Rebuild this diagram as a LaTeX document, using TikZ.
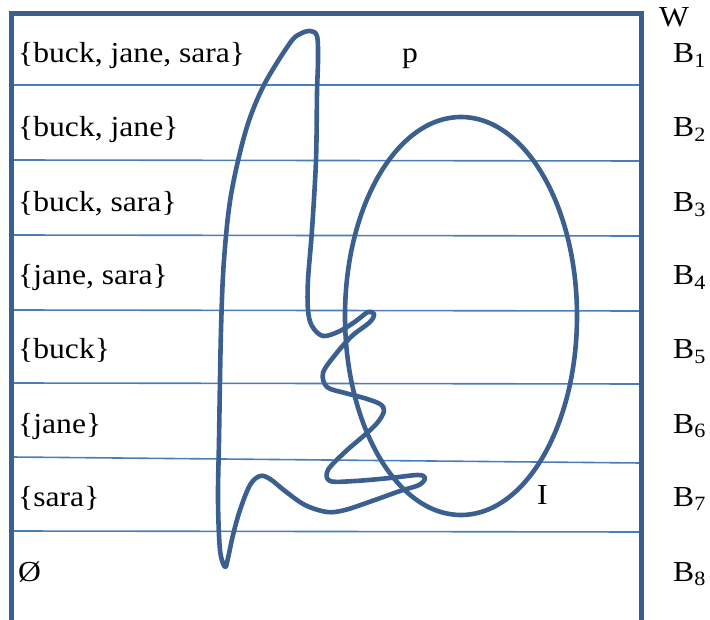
\documentclass[tikz,border=0pt]{standalone}
\usepackage{fontspec}
\setmainfont{Liberation Serif}[FakeStretch=1.09]
\usetikzlibrary{positioning}
\definecolor{frameblue}{HTML}{3B5F8F}
\definecolor{ruleblue}{HTML}{4A7EBB}
\tikzset{
  frm/.style={draw=frameblue,line width=5pt,line join=miter},
  rowline/.style={draw=ruleblue,line width=1.6pt},
  blob/.style={draw=frameblue,line width=4.6pt,line join=round},
  setlbl/.style={anchor=base west,inner sep=0pt,font=\fontsize{29}{31}\selectfont},
  blbl/.style={setlbl}
}
\begin{document}
\begin{tikzpicture}[x=1pt,y=-1pt]
  \useasboundingbox (0,0) rectangle (710,620);
  % rows of the partition
  \draw[rowline] (12,85) -- (641,85);
  \draw[rowline] (12,160) -- (641,161);
  \draw[rowline] (12,235) -- (641,236);
  \draw[rowline] (12,310) -- (641,311);
  \draw[rowline] (12,383) -- (641,384);
  \draw[rowline] (12,457) -- (641,463);
  \draw[rowline] (12,531) -- (641,532);
  % outer frame, open at the bottom
  \draw[frm] (11,625) -- (11,14) -- (641,14) -- (641,625);
  % the two regions
  \draw[blob] (461,316) ellipse (116 and 199);
  \draw[blob] plot[smooth cycle,tension=0.55] coordinates {
    (225,567) (220,550) (218,500) (219,440) (221,330) (224,260) (231,195)
    (246,130) (264,85) (290,43) (300,34) (310,31) (317,36) (318,60) (317,93)
    (316,160) (312,230) (308,280) (308,310) (312,326) (323,336) (340,331)
    (356,321) (368,312) (374,314) (370,322) (352,336) (335,355) (323,373)
    (327,387) (345,393) (364,398) (380,404) (384,411) (378,422) (367,433)
    (345,452) (328,470) (330,481) (355,481) (390,478) (418,475) (425,478)
    (419,485) (400,491) (372,501) (345,510) (327,512) (305,505) (285,491)
    (270,479) (260,476) (250,485) (240,510) (233,535) (228,558)};
  % sets
  \node[setlbl] (s1) at (18,63) {\{buck, jane, sara\}};
  \node[setlbl] (s2) at (18,137) {\{buck, jane\}};
  \node[setlbl] (s3) at (18,212) {\{buck, sara\}};
  \node[setlbl] (s4) at (18,285) {\{jane, sara\}};
  \node[setlbl] (s5) at (18,359) {\{buck\}};
  \node[setlbl] (s6) at (18,433) {\{jane\}};
  \node[setlbl] (s7) at (18,506) {\{sara\}};
  \node[setlbl] (s8) at (18,581) {Ø};
  \node[setlbl] (p) at (402,63) {p};
  \node[setlbl] (i) at (537,504) {I};
  % blocks
  \node[blbl] (w) at (659,27) {W};
  \node[blbl] (b1) at (673,63) {B\textsubscript{1}};
  \node[blbl] (b2) at (673,137) {B\textsubscript{2}};
  \node[blbl] (b3) at (673,212) {B\textsubscript{3}};
  \node[blbl] (b4) at (673,285) {B\textsubscript{4}};
  \node[blbl] (b5) at (673,359) {B\textsubscript{5}};
  \node[blbl] (b6) at (673,433) {B\textsubscript{6}};
  \node[blbl] (b7) at (673,506) {B\textsubscript{7}};
  \node[blbl] (b8) at (673,581) {B\textsubscript{8}};
\end{tikzpicture}
\end{document}
